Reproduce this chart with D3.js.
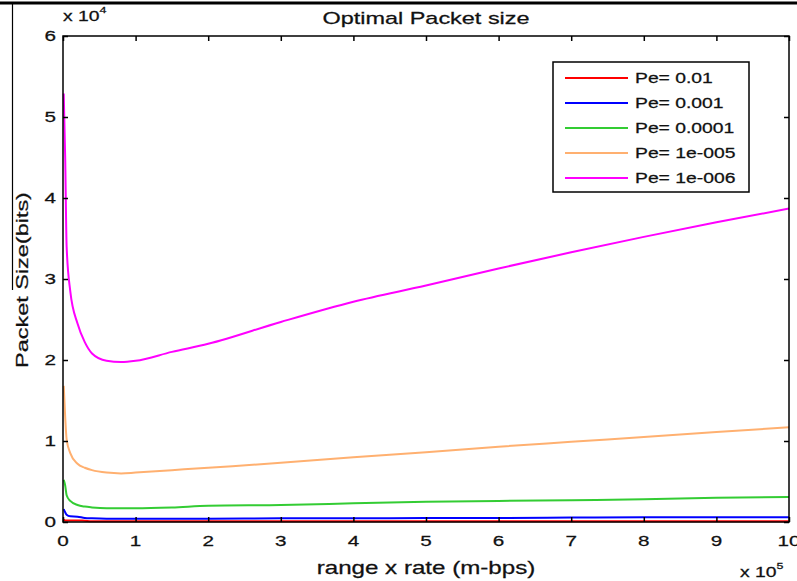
<!DOCTYPE html>
<html>
<head>
<meta charset="utf-8">
<script src="https://cdn.jsdelivr.net/npm/d3@7"></script>
<style>
  body { margin: 0; background: #fff; }
  text { font-family: "Liberation Sans", Arial, sans-serif; fill: #111; stroke: #111; stroke-width: 0.25; }
</style>
</head>
<body>
<svg width="797" height="581"></svg>
<script>
// data (x in units of 1e5, packet size in units of 1e4 bits)
var xVals = [0.01, 0.03, 0.05, 0.1, 0.2, 0.3, 0.4, 0.6, 0.8, 1, 1.5, 2, 3, 4, 5, 6, 7, 8, 9, 10];
var pe001    = [0.03, 0.02, 0.02, 0.02, 0.02, 0.015, 0.01, 0.01, 0.01, 0.01, 0.01, 0.01, 0.01, 0.01, 0.01, 0.01, 0.01, 0.01, 0.01, 0.01];
var pe0001   = [0.16, 0.12, 0.09, 0.07, 0.065, 0.05, 0.045, 0.04, 0.04, 0.04, 0.04, 0.04, 0.045, 0.045, 0.05, 0.05, 0.055, 0.06, 0.06, 0.06];
var pe00001  = [0.52, 0.45, 0.33, 0.26, 0.21, 0.19, 0.18, 0.17, 0.17, 0.17, 0.18, 0.2, 0.21, 0.23, 0.25, 0.26, 0.27, 0.28, 0.3, 0.31];
var pe1e5    = [1.68, 1.3, 1.02, 0.85, 0.72, 0.67, 0.64, 0.61, 0.6, 0.61, 0.64, 0.67, 0.73, 0.8, 0.86, 0.93, 0.99, 1.05, 1.11, 1.17];
var pe1e6    = [5.29, 4.5, 3.4, 2.85, 2.45, 2.22, 2.08, 1.99, 1.975, 1.99, 2.1, 2.2, 2.47, 2.72, 2.92, 3.13, 3.33, 3.52, 3.7, 3.87];
var seriesNames = ["Pe= 0.01", "Pe= 0.001", "Pe= 0.0001", "Pe= 1e-005", "Pe= 1e-006"];
var xTicks = [0, 1, 2, 3, 4, 5, 6, 7, 8, 9, 10];
var yTicks = [0, 1, 2, 3, 4, 5, 6];

var series = [pe001, pe0001, pe00001, pe1e5, pe1e6];
var colors = ["#ff0000", "#0000ff", "#33cc33", "#ffb070", "#ff00ff"];

var svg = d3.select("svg"),
    margin = {top: 36, right: 8, bottom: 59, left: 63},
    width = 797 - margin.left - margin.right,
    height = 581 - margin.top - margin.bottom;

var sx = 1.38; // text in the picture is stretched horizontally

function stretchText(sel, x, y, anchor) {
    return sel.append("text")
        .attr("transform", "translate(" + x + "," + y + ") scale(" + sx + ",1)")
        .attr("text-anchor", anchor || "start");
}

// page frame lines
svg.append("line").attr("x1", 0).attr("x2", 797).attr("y1", 3).attr("y2", 3)
    .attr("stroke", "#000").attr("stroke-width", 3);
svg.append("line").attr("x1", 12.5).attr("x2", 12.5).attr("y1", 3).attr("y2", 290)
    .attr("stroke", "#000").attr("stroke-width", 1.2);

var x = d3.scaleLinear().domain([0, 10]).range([0, width]),
    y = d3.scaleLinear().domain([0, 6]).range([height, 0]);

var g = svg.append("g")
    .attr("transform", "translate(" + margin.left + "," + margin.top + ")");

// lines
var line = d3.line()
    .curve(d3.curveMonotoneX)
    .x(function(d) { return x(d[0]); })
    .y(function(d) { return y(d[1]); });

series.forEach(function(s, k) {
    g.append("path")
        .datum(xVals.map(function(v, i) { return [v, s[i]]; }))
        .attr("fill", "none")
        .attr("stroke", colors[k])
        .attr("stroke-width", 2)
        .attr("d", line);
});

// axes (ticks inside, mirrored on top/right)
var tickStyle = function(a) {
    a.select(".domain").remove();
    a.selectAll("line").attr("stroke", "#000").attr("stroke-width", 1.5);
    a.selectAll("text").remove();
};
g.append("g").attr("transform", "translate(0," + height + ")")
    .call(d3.axisBottom(x).tickValues(xTicks).tickSize(-5)).call(tickStyle);
g.append("g")
    .call(d3.axisTop(x).tickValues(xTicks).tickSize(-5)).call(tickStyle);
g.append("g")
    .call(d3.axisLeft(y).tickValues(yTicks).tickSize(-5)).call(tickStyle);
g.append("g").attr("transform", "translate(" + width + ",0)")
    .call(d3.axisRight(y).tickValues(yTicks).tickSize(-5)).call(tickStyle);

g.append("rect").attr("width", width).attr("height", height)
    .attr("fill", "none").attr("stroke", "#000").attr("stroke-width", 1.5);

// tick labels
xTicks.forEach(function(t) {
    stretchText(g, x(t), height + 24, "middle").style("font-size", "15px").text(t);
});
yTicks.forEach(function(t) {
    stretchText(g, -7, y(t) + 5, "end").style("font-size", "15px").text(t);
});

// exponents
var e1 = stretchText(svg, 63, 21, "start").style("font-size", "14px");
e1.append("tspan").text("x 10");
e1.append("tspan").attr("dy", -8).style("font-size", "9px").text("4");
var e2 = stretchText(svg, 740, 577, "start").style("font-size", "14px");
e2.append("tspan").text("x 10");
e2.append("tspan").attr("dy", -8).style("font-size", "9px").text("5");

// title and axis labels
stretchText(svg, margin.left + width / 2, 24, "middle").style("font-size", "17px").text("Optimal Packet size");
stretchText(svg, margin.left + width / 2, 574, "middle").style("font-size", "17.5px").text("range x rate (m-bps)");
svg.append("text")
    .attr("transform", "translate(28,280) rotate(-90) scale(" + sx + ",1)")
    .attr("text-anchor", "middle")
    .style("font-size", "17px")
    .text("Packet Size(bits)");

// legend
var legend = svg.append("g").attr("transform", "translate(553,62)");
legend.append("rect").attr("width", 196).attr("height", 130)
    .attr("fill", "#fff").attr("stroke", "#000").attr("stroke-width", 1.5);
seriesNames.forEach(function(name, k) {
    var ly = 16 + k * 25;
    legend.append("line").attr("x1", 12).attr("x2", 75).attr("y1", ly).attr("y2", ly)
        .attr("stroke", colors[k]).attr("stroke-width", 2);
    stretchText(legend, 82, ly + 5, "start").style("font-size", "14px").text(name);
});
</script>
</body>
</html>
